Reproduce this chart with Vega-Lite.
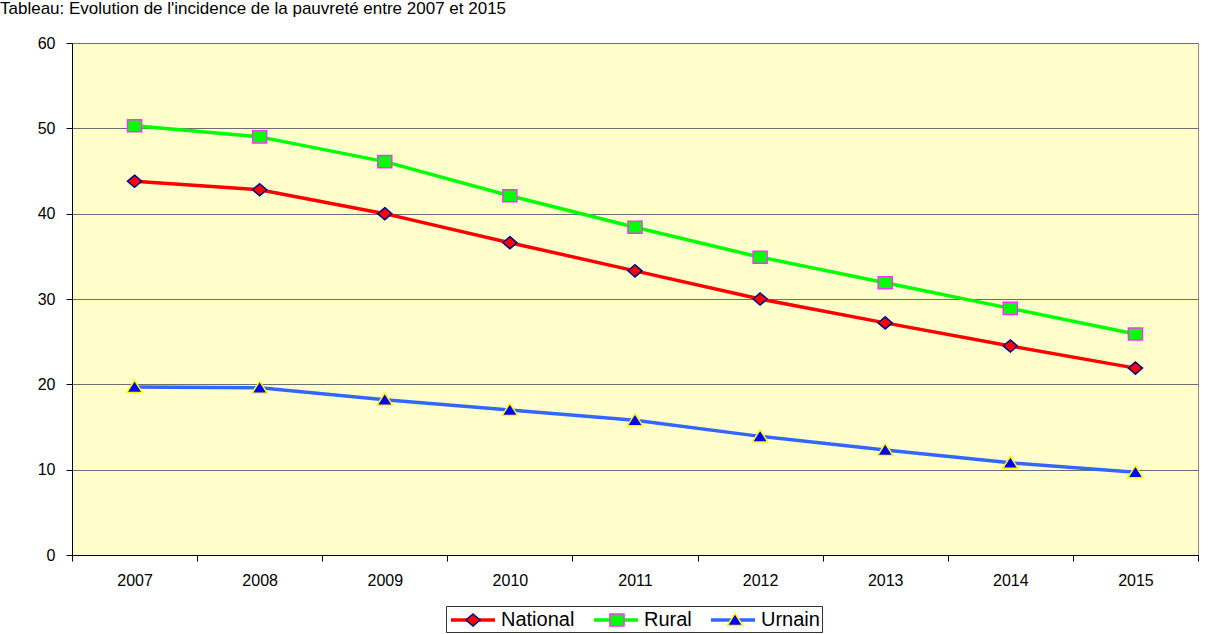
{
  "$schema": "https://vega.github.io/schema/vega-lite/v6.json",
  "width": 1126,
  "height": 512,
  "autosize": {"type": "none"},
  "padding": {"left": 72, "top": 43, "right": 17, "bottom": 79},
  "background": "white",
  "title": {
    "text": "Tableau: Evolution de l'incidence de la pauvreté entre 2007 et 2015",
    "anchor": "start",
    "frame": "group",
    "dx": -72,
    "dy": 25,
    "offset": 29,
    "baseline": "alphabetic",
    "font": "Liberation Sans",
    "fontSize": 17,
    "fontWeight": "normal",
    "color": "black"
  },
  "config": {
    "view": {"fill": "#FFFFCC", "stroke": "#8c8c8c", "strokeWidth": 1},
    "axis": {
      "labelFont": "Liberation Sans",
      "labelFontSize": 16,
      "labelColor": "black",
      "domainColor": "black",
      "tickColor": "black",
      "domainWidth": 1,
      "tickWidth": 1
    }
  },
  "data": {
    "values": [
      {"year": "2007", "series": "National", "value": 43.8},
      {"year": "2008", "series": "National", "value": 42.8},
      {"year": "2009", "series": "National", "value": 40.0},
      {"year": "2010", "series": "National", "value": 36.6},
      {"year": "2011", "series": "National", "value": 33.3},
      {"year": "2012", "series": "National", "value": 30.0},
      {"year": "2013", "series": "National", "value": 27.2},
      {"year": "2014", "series": "National", "value": 24.5},
      {"year": "2015", "series": "National", "value": 21.9},
      {"year": "2007", "series": "Rural", "value": 50.3},
      {"year": "2008", "series": "Rural", "value": 49.0},
      {"year": "2009", "series": "Rural", "value": 46.1},
      {"year": "2010", "series": "Rural", "value": 42.1},
      {"year": "2011", "series": "Rural", "value": 38.4},
      {"year": "2012", "series": "Rural", "value": 34.9},
      {"year": "2013", "series": "Rural", "value": 31.9},
      {"year": "2014", "series": "Rural", "value": 28.9},
      {"year": "2015", "series": "Rural", "value": 25.9},
      {"year": "2007", "series": "Urnain", "value": 19.7},
      {"year": "2008", "series": "Urnain", "value": 19.6},
      {"year": "2009", "series": "Urnain", "value": 18.2},
      {"year": "2010", "series": "Urnain", "value": 17.0},
      {"year": "2011", "series": "Urnain", "value": 15.8},
      {"year": "2012", "series": "Urnain", "value": 13.9},
      {"year": "2013", "series": "Urnain", "value": 12.3},
      {"year": "2014", "series": "Urnain", "value": 10.8},
      {"year": "2015", "series": "Urnain", "value": 9.7}
    ]
  },
  "encoding": {
    "x": {
      "field": "year",
      "type": "ordinal",
      "bandPosition": 0.5,
      "scale": {"type": "band", "paddingInner": 0, "paddingOuter": 0},
      "axis": {
        "title": null,
        "labelAngle": 0,
        "tickBand": "extent",
        "tickSize": 6,
        "labelPadding": 11,
        "grid": false
      }
    },
    "y": {
      "field": "value",
      "type": "quantitative",
      "scale": {"domain": [0, 60], "nice": false, "zero": true},
      "axis": {
        "title": null,
        "values": [0, 10, 20, 30, 40, 50, 60],
        "tickSize": 6,
        "labelPadding": 11,
        "grid": true,
        "gridColor": "#6e6e6e",
        "gridWidth": 1
      }
    }
  },
  "layer": [
    {
      "mark": {"type": "line", "strokeWidth": 3.5},
      "encoding": {
        "color": {
          "field": "series",
          "type": "nominal",
          "scale": {"domain": ["National", "Rural", "Urnain"], "range": ["#FF0000", "#00FF00", "#3366FF"]},
          "legend": {
            "orient": "none",
            "legendX": 374,
            "legendY": 563,
            "direction": "horizontal",
            "title": null,
            "symbolType": "M-2.2,0H2.2",
            "symbolSize": 400,
            "symbolStrokeWidth": 3.5,
            "symbolOffset": 13,
            "labelFont": "Liberation Sans",
            "labelFontSize": 20,
            "labelColor": "black",
            "labelOffset": 16,
            "columnPadding": 12,
            "padding": 2,
            "strokeColor": "#333333",
            "fillColor": "white"
          }
        }
      }
    },
    {
      "mark": {"type": "point", "filled": true, "size": 484, "strokeWidth": 1.5, "opacity": 1},
      "encoding": {
        "fill": {
          "field": "series",
          "type": "nominal",
          "scale": {"range": ["#FF0000", "#00FF00", "#0000FF"]},
          "legend": {
            "orient": "none",
            "legendX": 374,
            "legendY": 563,
            "direction": "horizontal",
            "title": null,
            "symbolSize": 484,
            "symbolStrokeWidth": 1.5,
            "symbolOffset": 13,
            "labelFont": "Liberation Sans",
            "labelFontSize": 20,
            "labelOpacity": 0,
            "labelOffset": 16,
            "columnPadding": 17,
            "padding": 2
          }
        },
        "shape": {
          "field": "series",
          "type": "nominal",
          "scale": {
            "range": ["M0,-0.55L0.64,0L0,0.55L-0.64,0Z", "M-0.64,-0.55H0.64V0.55H-0.64Z", "M0,-0.6L0.7,0.5H-0.7Z"]
          },
          "legend": {
            "orient": "none",
            "legendX": 374,
            "legendY": 563,
            "direction": "horizontal",
            "title": null,
            "symbolSize": 484,
            "symbolStrokeWidth": 1.5,
            "symbolOffset": 13,
            "labelFont": "Liberation Sans",
            "labelFontSize": 20,
            "labelOpacity": 0,
            "labelOffset": 16,
            "columnPadding": 17,
            "padding": 2
          }
        },
        "stroke": {
          "field": "series",
          "type": "nominal",
          "scale": {"range": ["#000080", "#FF33FF", "#FFFF00"]},
          "legend": {
            "orient": "none",
            "legendX": 374,
            "legendY": 563,
            "direction": "horizontal",
            "title": null,
            "symbolSize": 484,
            "symbolStrokeWidth": 1.5,
            "symbolOffset": 13,
            "labelFont": "Liberation Sans",
            "labelFontSize": 20,
            "labelOpacity": 0,
            "labelOffset": 16,
            "columnPadding": 17,
            "padding": 2
          }
        }
      }
    }
  ]
}
